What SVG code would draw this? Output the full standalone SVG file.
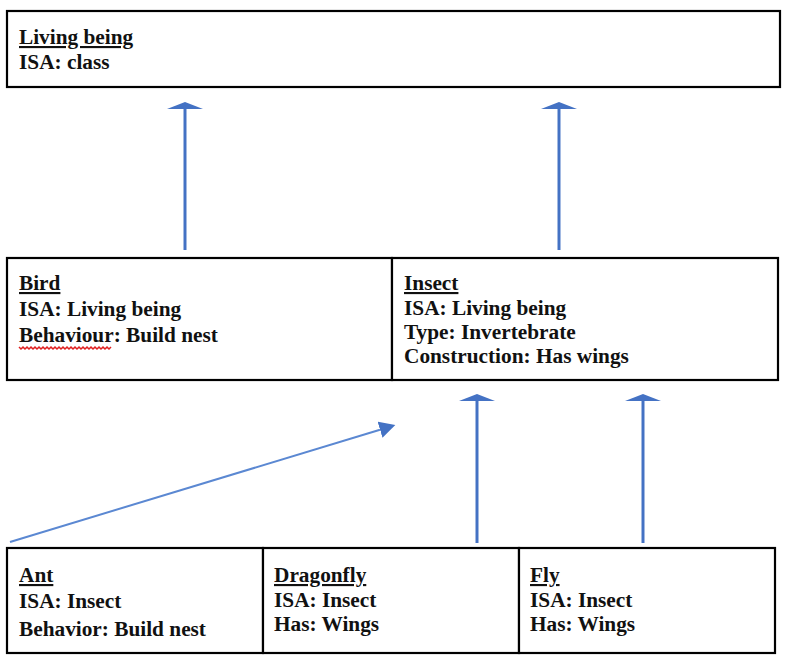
<svg xmlns="http://www.w3.org/2000/svg" width="786" height="664" viewBox="0 0 786 664">
<style>
  .box { fill: #ffffff; stroke: #000000; stroke-width: 2.2; }
  text { font-family: "Liberation Serif", "Times New Roman", serif; font-weight: bold; font-size: 21.3px; fill: #111111; }
  .title { text-decoration: underline; }
  .conn { stroke: #4472C4; stroke-width: 3; fill: none; }
  .conn-thin { stroke: #5B88D2; stroke-width: 2; fill: none; }
  .squiggle { stroke: #e02020; stroke-width: 1.5; fill: none; }
</style>
<defs>
  <marker id="headWide" markerUnits="userSpaceOnUse" viewBox="0 -18 8 36" refX="0" refY="0" markerWidth="8" markerHeight="36" orient="auto">
    <path d="M0,-18 L7,0 L0,18 Z" fill="#4472C4"/>
  </marker>
  <marker id="headTri" markerUnits="userSpaceOnUse" viewBox="0 -9 17 18" refX="0" refY="0" markerWidth="17" markerHeight="18" orient="auto">
    <path d="M0,-8.5 L16,0 L0,8.5 Z" fill="#4472C4"/>
  </marker>
</defs>
<rect width="786" height="664" fill="#ffffff"/>

<g id="connectors">
  <line class="conn" x1="185" y1="250" x2="185" y2="109" marker-end="url(#headWide)"/>
  <line class="conn" x1="559" y1="250" x2="559" y2="109" marker-end="url(#headWide)"/>
  <line class="conn" x1="477" y1="543" x2="477" y2="401" marker-end="url(#headWide)"/>
  <line class="conn" x1="643" y1="543" x2="643" y2="401" marker-end="url(#headWide)"/>
  <line class="conn-thin" x1="10" y1="542" x2="380" y2="429.7" marker-end="url(#headTri)"/>
</g>

<g id="living-being">
  <rect class="box" x="7" y="11" width="773" height="76"/>
  <text class="title" x="19" y="44">Living being</text>
  <text x="19" y="69">ISA: class</text>
</g>

<g id="bird">
  <rect class="box" x="7" y="258" width="385" height="122"/>
  <text class="title" x="19" y="290">Bird</text>
  <text x="19" y="316">ISA: Living being</text>
  <text x="19" y="342">Behaviour: Build nest</text>
  <path class="squiggle" d="M19,347 l2,2 l2,-2 l2,2 l2,-2 l2,2 l2,-2 l2,2 l2,-2 l2,2 l2,-2 l2,2 l2,-2 l2,2 l2,-2 l2,2 l2,-2 l2,2 l2,-2 l2,2 l2,-2 l2,2 l2,-2 l2,2 l2,-2 l2,2 l2,-2 l2,2 l2,-2 l2,2 l2,-2 l2,2 l2,-2 l2,2 l2,-2 l2,2 l2,-2 l2,2 l2,-2 l2,2 l2,-2 l2,2 l2,-2 l2,2 l2,-2 l2,2 l2,-2"/>
</g>

<g id="insect">
  <rect class="box" x="392" y="258" width="386" height="122"/>
  <text class="title" x="404" y="290">Insect</text>
  <text x="404" y="315">ISA: Living being</text>
  <text x="404" y="339">Type: Invertebrate</text>
  <text x="404" y="363">Construction: Has wings</text>
</g>

<g id="ant">
  <rect class="box" x="7" y="548" width="256" height="105"/>
  <text class="title" x="19" y="582">Ant</text>
  <text x="19" y="608">ISA: Insect</text>
  <text x="19" y="636">Behavior: Build nest</text>
</g>

<g id="dragonfly">
  <rect class="box" x="263" y="548" width="256" height="105"/>
  <text class="title" x="274" y="582">Dragonfly</text>
  <text x="274" y="607">ISA: Insect</text>
  <text x="274" y="631">Has: Wings</text>
</g>

<g id="fly">
  <rect class="box" x="519" y="548" width="256" height="105"/>
  <text class="title" x="530" y="582">Fly</text>
  <text x="530" y="607">ISA: Insect</text>
  <text x="530" y="631">Has: Wings</text>
</g>
</svg>
